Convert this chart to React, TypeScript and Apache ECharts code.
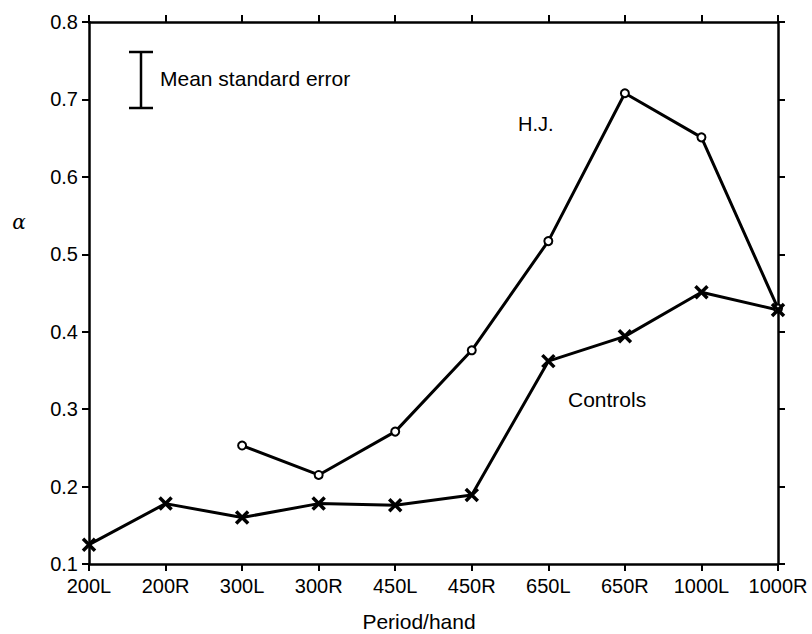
import React, { useEffect, useRef } from "react";
import * as echarts from "echarts";

const categories = ["200L", "200R", "300L", "300R", "450L", "450R", "650L", "650R", "1000L", "1000R"];
const hjValues: (number | string)[] = ["-", "-", 0.253, 0.215, 0.271, 0.376, 0.517, 0.708, 0.651, 0.43];
const controlValues = [0.125, 0.178, 0.16, 0.178, 0.176, 0.189, 0.362, 0.394, 0.451, 0.428];
const yTicks = { min: 0.1, max: 0.8, step: 0.1 };

const FONT = "'Liberation Sans', Arial, Helvetica, sans-serif";

export default function App() {
  const ref = useRef<HTMLDivElement>(null);
  useEffect(() => {
    if (!ref.current) return;
    const chart = echarts.init(ref.current, null, { renderer: "svg" });
    const line = () => ({ show: true, onZero: false, lineStyle: { color: "#000", width: 2.5 } });
    const tick = () => ({ show: true, inside: false, length: 7, lineStyle: { color: "#000", width: 2 } });
    chart.setOption({
      animation: false,
      backgroundColor: "#fff",
      grid: { left: 89, right: 34, top: 22, bottom: 70, containLabel: false },
      xAxis: [
        {
          type: "category",
          data: categories,
          boundaryGap: false,
          axisLine: line(),
          axisTick: tick(),
          axisLabel: { color: "#000", fontSize: 20, fontFamily: FONT, margin: 12, interval: 0 },
          splitLine: { show: false },
        },
        {
          type: "category",
          data: categories,
          boundaryGap: false,
          position: "top",
          axisLine: line(),
          axisTick: tick(),
          axisLabel: { show: false },
          splitLine: { show: false },
        },
      ],
      yAxis: [
        {
          type: "value",
          min: yTicks.min,
          max: yTicks.max,
          interval: yTicks.step,
          axisLine: line(),
          axisTick: tick(),
          axisLabel: {
            color: "#000",
            fontSize: 20,
            fontFamily: FONT,
            margin: 11,
            formatter: (v: number) => v.toFixed(1),
          },
          splitLine: { show: false },
        },
        {
          type: "value",
          min: yTicks.min,
          max: yTicks.max,
          interval: yTicks.step,
          position: "right",
          axisLine: line(),
          axisTick: tick(),
          axisLabel: { show: false },
          splitLine: { show: false },
        },
      ],
      series: [
        {
          name: "H.J.",
          type: "line",
          data: hjValues,
          symbol: "circle",
          symbolSize: 8,
          showAllSymbol: true,
          lineStyle: { color: "#000", width: 3 },
          itemStyle: { color: "#fff", borderColor: "#000", borderWidth: 2 },
          z: 3,
        },
        {
          name: "Controls",
          type: "line",
          data: controlValues,
          symbol: "path://M0,0L10,10M10,0L0,10",
          symbolSize: 12,
          showAllSymbol: true,
          lineStyle: { color: "#000", width: 3 },
          itemStyle: { color: "none", borderColor: "#000", borderWidth: 3.5 },
          z: 3,
        },
      ],
      graphic: [
        { type: "line", shape: { x1: 141, y1: 52, x2: 141, y2: 108 }, style: { stroke: "#000", lineWidth: 2.5 } },
        { type: "line", shape: { x1: 129, y1: 52, x2: 153, y2: 52 }, style: { stroke: "#000", lineWidth: 2.5 } },
        { type: "line", shape: { x1: 129, y1: 108, x2: 153, y2: 108 }, style: { stroke: "#000", lineWidth: 2.5 } },
        {
          type: "text",
          x: 160,
          y: 78,
          style: { text: "Mean standard error", fontSize: 21, fontFamily: FONT, fill: "#000", verticalAlign: "middle", align: "left" },
        },
        {
          type: "text",
          x: 518,
          y: 124,
          style: { text: "H.J.", fontSize: 20, fontFamily: FONT, fill: "#000", verticalAlign: "middle", align: "left" },
        },
        {
          type: "text",
          x: 568,
          y: 399,
          style: { text: "Controls", fontSize: 21, fontFamily: FONT, fill: "#000", verticalAlign: "middle", align: "left" },
        },
        {
          type: "text",
          x: 419,
          y: 621,
          style: { text: "Period/hand", fontSize: 21, fontFamily: FONT, fill: "#000", verticalAlign: "middle", align: "center" },
        },
        {
          type: "text",
          x: 19,
          y: 222,
          style: { text: "α", fontSize: 20, fontFamily: "'DejaVu Serif', 'Liberation Serif', serif", fontStyle: "italic", fill: "#000", verticalAlign: "middle", align: "center" },
        },
      ],
    });
    return () => chart.dispose();
  }, []);
  return <div ref={ref} style={{ width: 812, height: 634, position: "absolute", left: 0, top: 0 }} />;
}
